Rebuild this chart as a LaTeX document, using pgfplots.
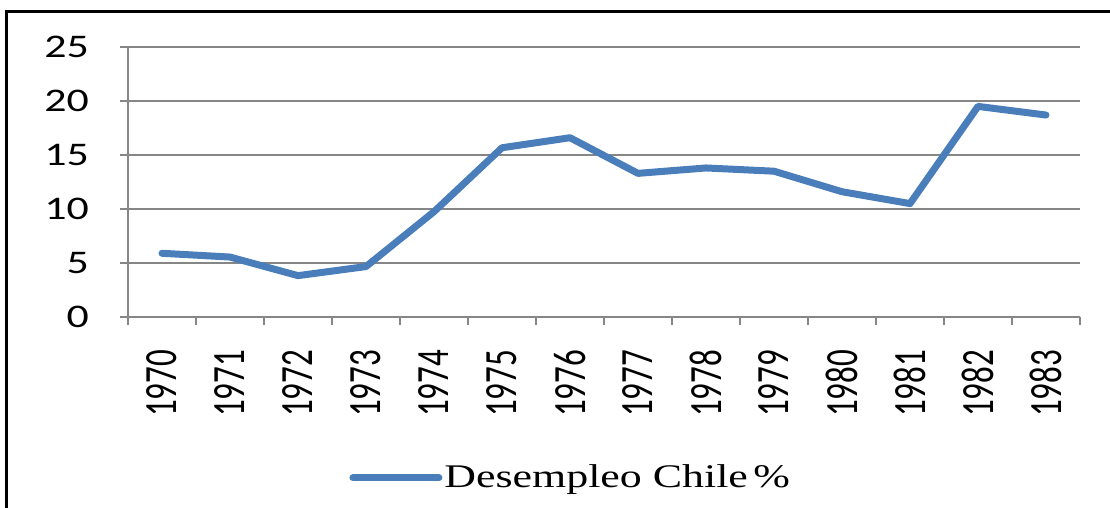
\documentclass[border=0pt]{standalone}
\usepackage{pgfplots}
\pgfplotsset{compat=1.18}
\usepackage{fontspec}
\setmainfont{Liberation Serif}
\newfontfamily\carlito{Carlito}
\newcommand\sx[1]{\scalebox{1.33}[1]{#1}}
\newcommand\sy[1]{\scalebox{1}[1.4]{#1}}
\definecolor{lineblue}{HTML}{4A7EBB}
\definecolor{gridgray}{HTML}{868686}
\begin{document}
\begin{tikzpicture}
\useasboundingbox (-64pt,-95.5pt) rectangle (491pt,158.5pt);
\begin{axis}[
  at={(0,0)}, anchor=south west,
  scale only axis,
  width=476pt, height=135pt,
  xmin=-0.5, xmax=13.5,
  ymin=0, ymax=25,
  axis x line*=bottom, axis y line*=left,
  axis line style={gridgray, line width=1pt},
  xtick={0,...,13},
  xticklabels={\sy{1970},\sy{1971},\sy{1972},\sy{1973},\sy{1974},\sy{1975},\sy{1976},\sy{1977},\sy{1978},\sy{1979},\sy{1980},\sy{1981},\sy{1982},\sy{1983}},
  minor xtick={-0.5,0.5,...,13.5},
  every major x tick/.append style={draw=none},
  ytick={0,5,10,15,20,25},
  yticklabels={\sx{0},\sx{5},\sx{10},\sx{15},\sx{20},\sx{25}},
  tick align=outside,
  major tick length=4pt, minor tick length=4pt,
  tick style={gridgray, line width=1pt},
  ymajorgrids,
  major grid style={gridgray, line width=1pt},
  ticklabel style={font=\carlito\fontsize{16.5}{18}\selectfont, text=black},
  xticklabel style={rotate=90, anchor=east, yshift=0pt, xshift=-9pt},
  yticklabel style={anchor=east, xshift=-12pt},
  legend style={at={(0.466,-0.596)}, anchor=center, draw=none, fill=none,
    font=\fontsize{16.5}{18}\selectfont, inner sep=0pt,
    /tikz/every even column/.append style={column sep=0pt}},
  legend image code/.code={\draw[#1, line cap=round] (0pt,0pt) -- (43pt,0pt);},
  legend cell align=left,
]
\addplot[lineblue, line width=3.5pt, line join=round, line cap=round] coordinates {
(0,5.9) (1,5.55) (2,3.83) (3,4.67) (4,9.75) (5,15.67) (6,16.6)
(7,13.3) (8,13.8) (9,13.5) (10,11.6) (11,10.5) (12,19.5) (13,18.7)
};
\addlegendentry{\hspace{-1pt}\sx{Desempleo Chile\hspace{2pt}\%}}
\end{axis}
\draw[black, line width=1.5pt] (-60.5pt,-95.5pt) -- (-60.5pt,152.5pt) -- (491pt,152.5pt);
\end{tikzpicture}
\end{document}
